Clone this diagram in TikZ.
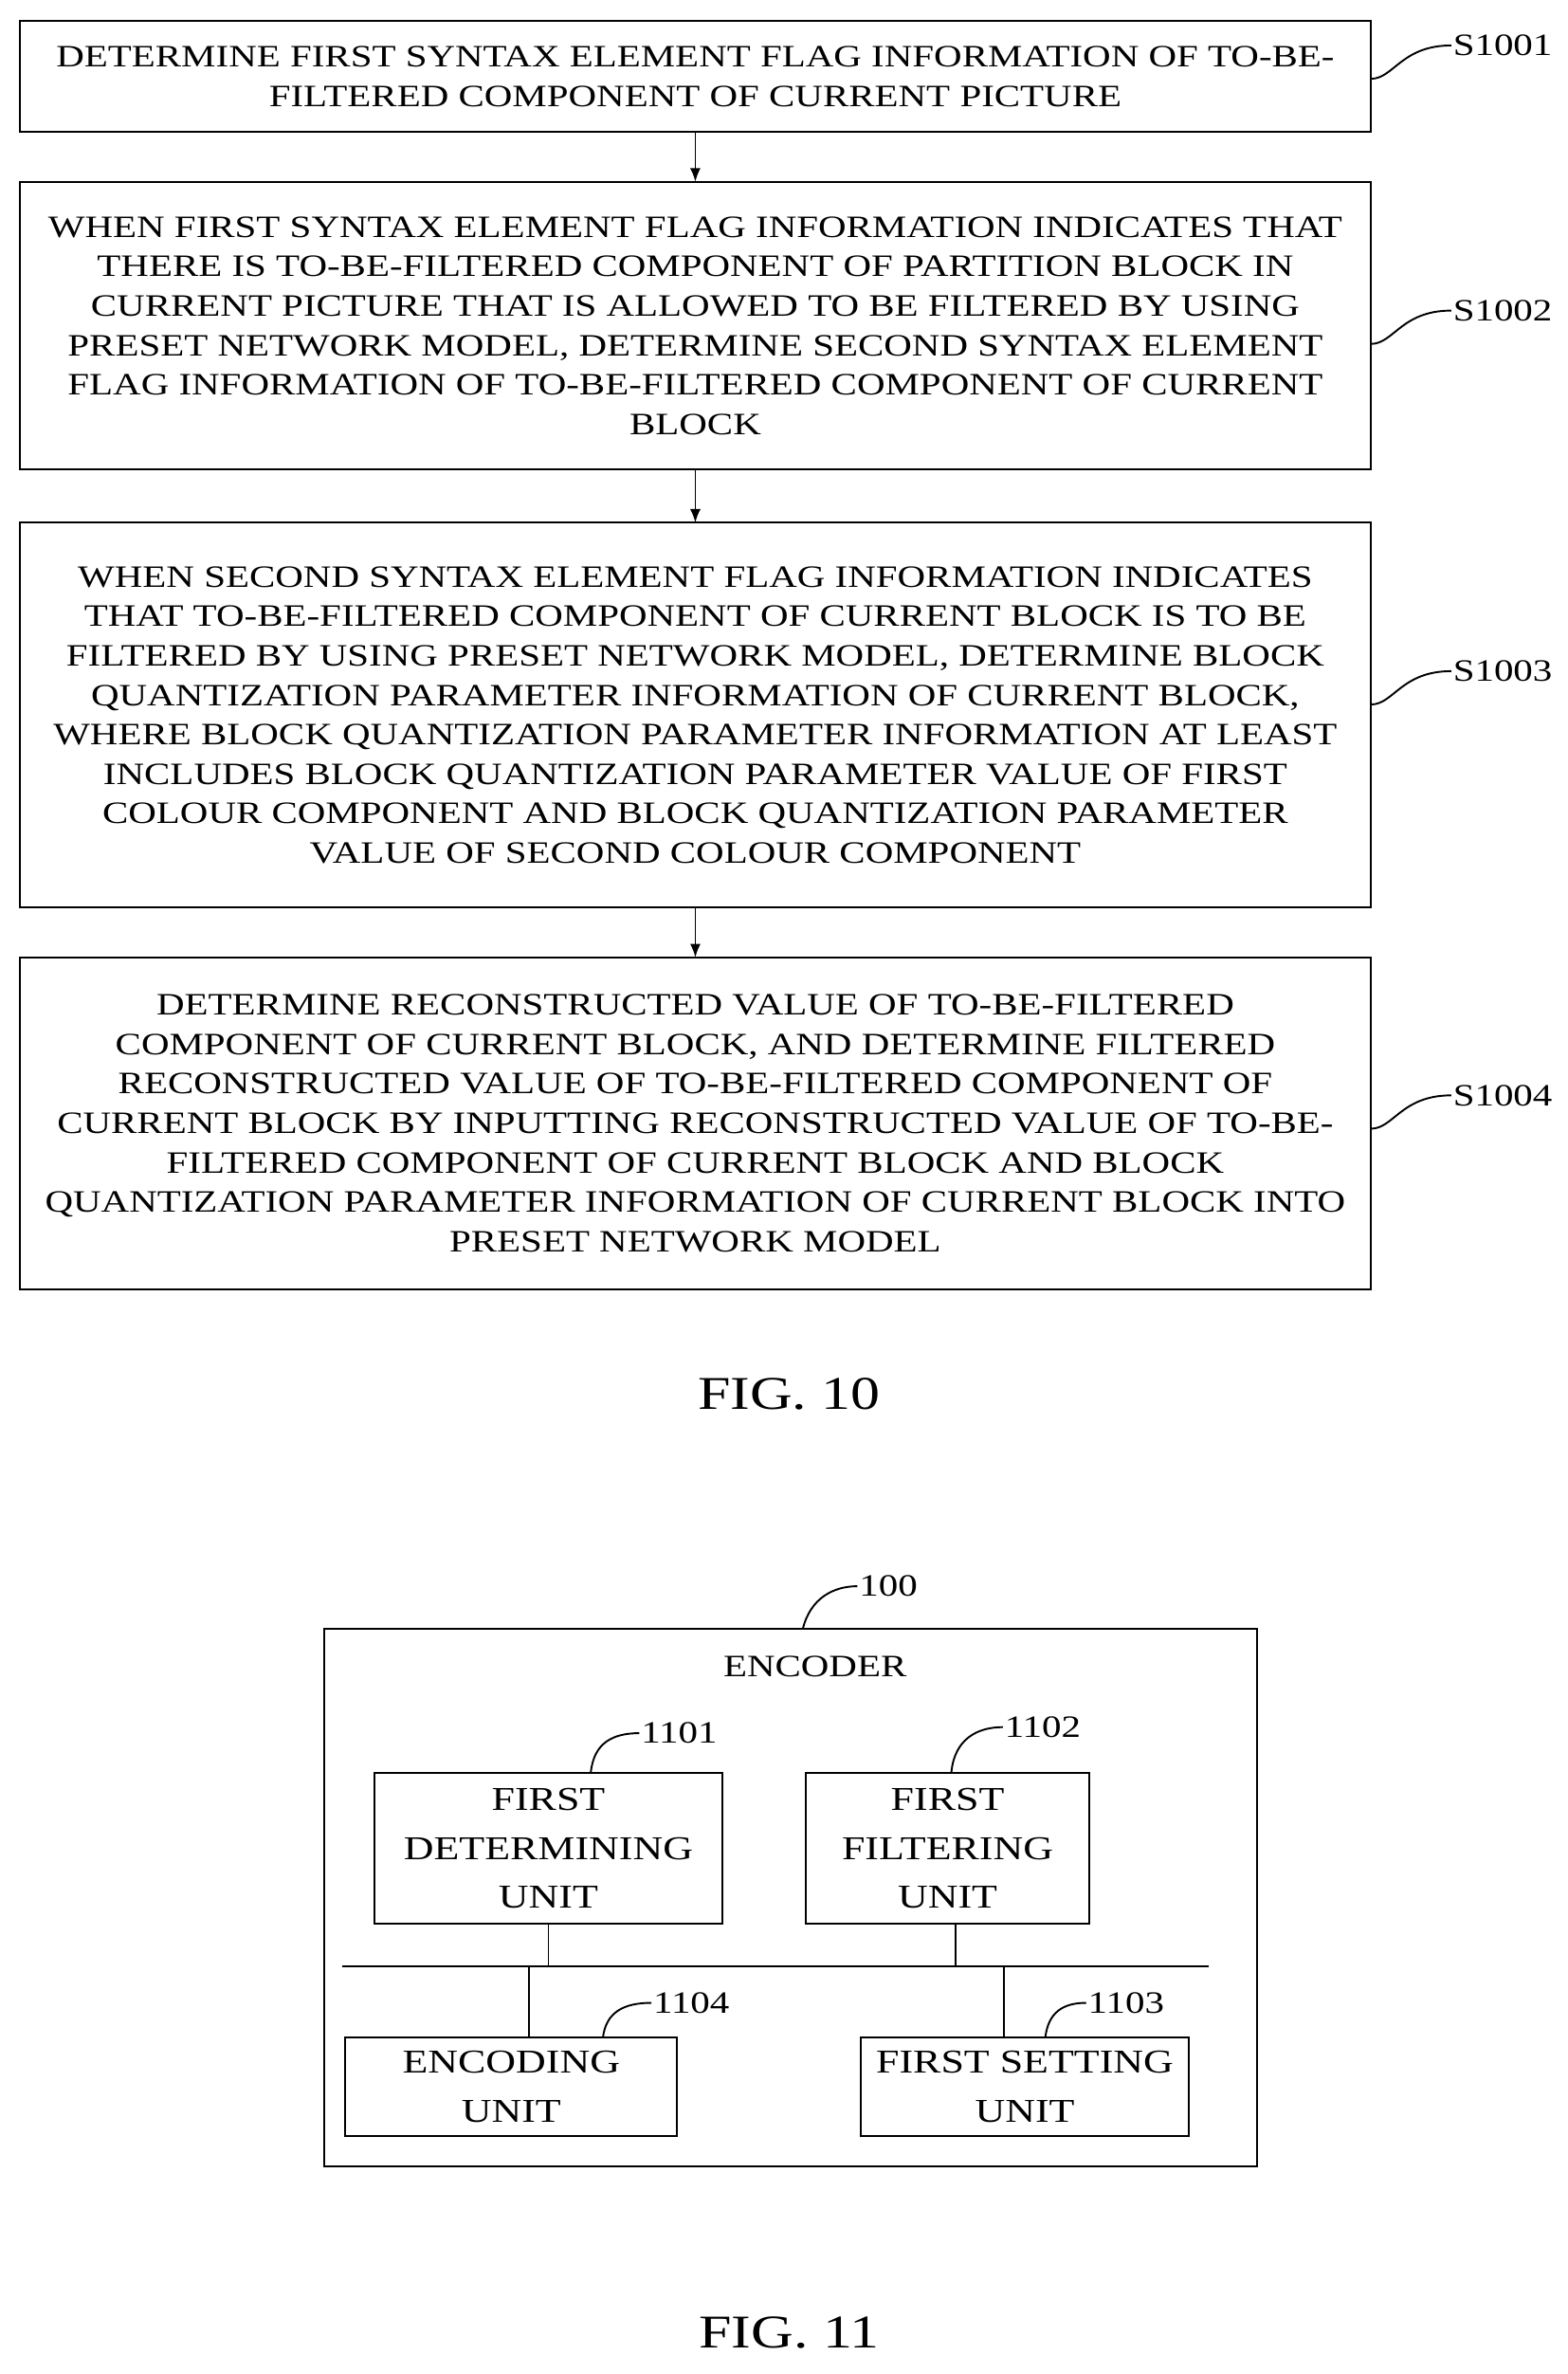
\documentclass[tikz,border=0pt]{standalone}
\usepackage{fontspec}
\setmainfont[FakeStretch=1.25]{Liberation Serif}
\usetikzlibrary{arrows.meta}
\begin{document}
\begin{tikzpicture}[x=1pt,y=-1pt,
 box/.style={draw,line width=1.2pt},
 txt/.style={align=center,font=\fontsize{20.5}{26}\selectfont,inner sep=0},
 utxt/.style={align=center,font=\fontsize{22}{32.5}\selectfont,inner sep=0},
 lab/.style={font=\fontsize{20.5}{24}\selectfont,inner sep=1pt},
 arr/.style={line width=1.2pt,-{Latex[length=9pt,width=7pt]}},
 ln/.style={line width=1.2pt}]
\useasboundingbox (0,0) rectangle (1035,1567);
% FIG 10
\draw[box] (13,14) rectangle (905,87) node[midway,txt] (t1) {DETERMINE FIRST SYNTAX ELEMENT FLAG INFORMATION OF TO-BE-\\FILTERED COMPONENT OF CURRENT PICTURE};
\draw[box] (13,120) rectangle (905,310) node[midway,txt] (t2) {WHEN FIRST SYNTAX ELEMENT FLAG INFORMATION INDICATES THAT\\THERE IS TO-BE-FILTERED COMPONENT OF PARTITION BLOCK IN\\CURRENT PICTURE THAT IS ALLOWED TO BE FILTERED BY USING\\PRESET NETWORK MODEL, DETERMINE SECOND SYNTAX ELEMENT\\FLAG INFORMATION OF TO-BE-FILTERED COMPONENT OF CURRENT\\BLOCK};
\draw[box] (13,345) rectangle (905,599) node[midway,txt] (t3) {WHEN SECOND SYNTAX ELEMENT FLAG INFORMATION INDICATES\\THAT TO-BE-FILTERED COMPONENT OF CURRENT BLOCK IS TO BE\\FILTERED BY USING PRESET NETWORK MODEL, DETERMINE BLOCK\\QUANTIZATION PARAMETER INFORMATION OF CURRENT BLOCK,\\WHERE BLOCK QUANTIZATION PARAMETER INFORMATION AT LEAST\\INCLUDES BLOCK QUANTIZATION PARAMETER VALUE OF FIRST\\COLOUR COMPONENT AND BLOCK QUANTIZATION PARAMETER\\VALUE OF SECOND COLOUR COMPONENT};
\draw[box] (13,632) rectangle (905,851) node[midway,txt] (t4) {DETERMINE RECONSTRUCTED VALUE OF TO-BE-FILTERED\\COMPONENT OF CURRENT BLOCK, AND DETERMINE FILTERED\\RECONSTRUCTED VALUE OF TO-BE-FILTERED COMPONENT OF\\CURRENT BLOCK BY INPUTTING RECONSTRUCTED VALUE OF TO-BE-\\FILTERED COMPONENT OF CURRENT BLOCK AND BLOCK\\QUANTIZATION PARAMETER INFORMATION OF CURRENT BLOCK INTO\\PRESET NETWORK MODEL};
\coordinate (a1) at (459,87); \coordinate (a2) at (459,120);
\coordinate (a3) at (459,310); \coordinate (a4) at (459,345);
\coordinate (a5) at (459,599); \coordinate (a6) at (459,632);
\draw[arr] (a1)--(a2); \draw[arr] (a3)--(a4); \draw[arr] (a5)--(a6);
\node[lab,anchor=west] (s1) at (958,30) {S1001};
\node[lab,anchor=west] (s2) at (958,205) {S1002};
\node[lab,anchor=west] (s3) at (958,443) {S1003};
\node[lab,anchor=west] (s4) at (958,723) {S1004};
\foreach \y/\s in {30/s1,205/s2,443/s3,723/s4}
 \draw[ln] (905,\y+22) .. controls (920,\y+22) and (925,\y) .. (\s.west);
\node[font=\fontsize{31}{33}\selectfont] (f10) at (521,920) {FIG. 10};
% FIG 11
\draw[box] (214,1075) rectangle (830,1430);
\node[txt] (enc) at (538,1100) {ENCODER};
\node[lab,anchor=west] (l100) at (566,1047) {100};
\draw[ln] (530,1075) .. controls (535,1055) and (550,1047) .. (l100.west);
\node[box,utxt,minimum width=230,minimum height=100] (u1) at (362,1220) {FIRST\\DETERMINING\\UNIT};
\node[box,utxt,minimum width=187,minimum height=100] (u2) at (625.5,1220) {FIRST\\FILTERING\\UNIT};
\node[box,utxt,minimum width=219,minimum height=65] (u4) at (337.5,1377.5) {ENCODING\\UNIT};
\node[box,utxt,minimum width=217,minimum height=65] (u3) at (676.5,1377.5) {FIRST SETTING\\UNIT};
\node[lab,anchor=west] (l1) at (422,1144) {1101};
\node[lab,anchor=west] (l2) at (662,1140) {1102};
\node[lab,anchor=west] (l4) at (430,1322) {1104};
\node[lab,anchor=west] (l3) at (717,1322) {1103};
\draw[ln] (390,1170) .. controls (392,1150) and (405,1144) .. (l1.west);
\draw[ln] (628,1170) .. controls (630,1148) and (645,1140) .. (l2.west);
\draw[ln] (398,1345) .. controls (400,1328) and (412,1322) .. (l4.west);
\draw[ln] (690,1345) .. controls (692,1328) and (702,1322) .. (l3.west);
\coordinate (busL) at (226,1298); \coordinate (busR) at (798,1298);
\draw[ln] (busL)--(busR);
\draw[ln] (u1.south) -- (u1.south |- busL);
\draw[ln] (631,1270) -- (631,1298);
\draw[ln] (349,1298) -- (349,1345);
\draw[ln] (663,1298) -- (663,1345);
\node[font=\fontsize{31}{33}\selectfont] (f11) at (521,1540) {FIG. 11};
\end{tikzpicture}
\end{document}
